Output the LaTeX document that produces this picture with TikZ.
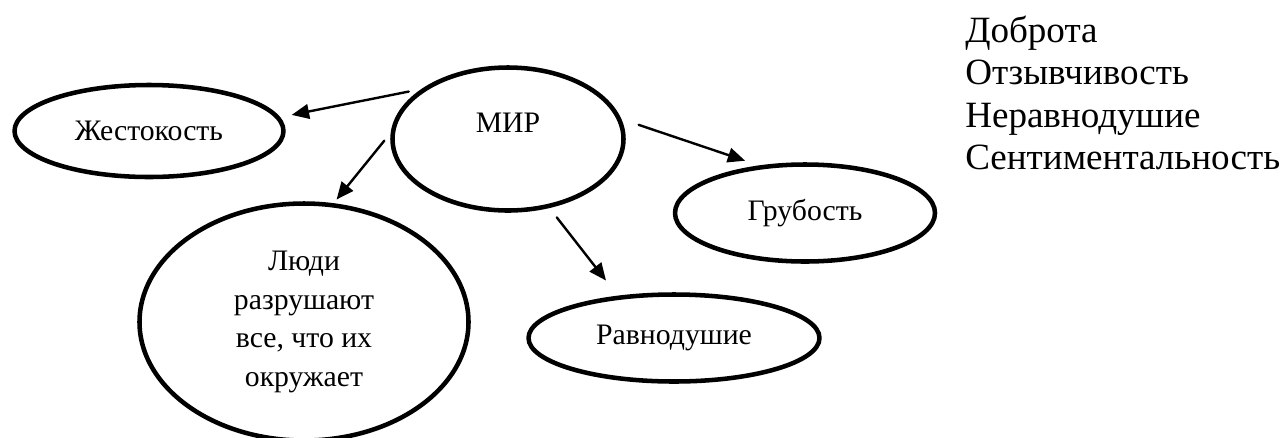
\documentclass[tikz,border=0pt]{standalone}
\usepackage{fontspec}
\setmainfont{Liberation Serif}
\usetikzlibrary{shapes.geometric,arrows.meta}

\tikzset{
  blob/.style={draw, ellipse, line width=3.4pt, inner sep=0pt,
    font=\fontsize{22.3}{29}\selectfont, align=center},
  arr/.style={line width=1.8pt, -{Triangle[length=13pt,width=11pt]}}
}

\begin{document}
\begin{tikzpicture}[line cap=round, line join=round, x=0.75pt, y=-0.75pt]
                \useasboundingbox (0, 0) rectangle (1284, 437);
                \node[blob, minimum width=201.75pt, minimum height=69pt] (zh) at (149, 131) {Жестокость};
                \node[blob, minimum width=173.25pt, minimum height=107.25pt,
                      label={[yshift=12pt, font=\fontsize{22.3}{29}\selectfont]center:МИР}] (mir) at (508, 139) {};
                \node[blob, minimum width=246.75pt, minimum height=177.75pt] (ludi) at (304, 322)
                    {Люди\\разрушают\\все, что их\\окружает};
                \node[blob, minimum width=195pt, minimum height=72.75pt] (grub) at (805, 213) {Грубость};
                \node[blob, minimum width=218.25pt, minimum height=65.25pt] (ravn) at (674, 338) {Равнодушие};
                \foreach \from/\sa/\to/\sb in {150/9.7pt/zh.6/8.9pt, 177/7.5pt/ludi.76/3.5pt,
                                               10/13.7pt/grub.134/11pt, -59/8.9pt/ravn.143/14.4pt}
                    \draw[arr, shorten <=\sa, shorten >=\sb] (mir.\from) -- (\to);
                \foreach \word [count=\i] in {Доброта, Отзывчивость, Неравнодушие, Сентиментальность}
                    \node[anchor=base west, inner sep=0pt, font=\fontsize{27.8}{32}\selectfont] (good\i) at (965, {42.4*\i}) {\word};
            \end{tikzpicture}
\end{document}
